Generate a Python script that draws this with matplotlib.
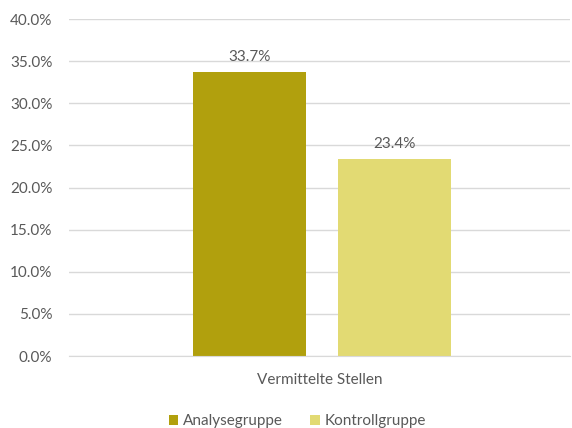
import matplotlib.pyplot as plt
from matplotlib.ticker import PercentFormatter, MultipleLocator

plt.rcParams['font.family'] = ['Lato', 'DejaVu Sans']

# Anteil vermittelter Stellen je Gruppe
category = "Vermittelte Stellen"
groups = ["Analysegruppe", "Kontrollgruppe"]
values = [33.7, 23.4]
colors = ["#B1A00D", "#E2DA73"]

text_color = "#595959"
grid_color = "#D9D9D9"
fs = 11

fig = plt.figure(figsize=(5.72, 4.28), dpi=100)
ax = fig.add_axes([0.1206, 0.1682, 0.876, 0.7874])

offsets = [-0.14, 0.149]
width = 0.225
for g, v, c, off in zip(groups, values, colors, offsets):
    b = ax.bar(off, v, width=width, color=c, label=g, zorder=3)
    ax.bar_label(b, labels=[f"{v:.1f}%"], padding=6, fontsize=fs, color=text_color)

ax.set_xlim(-0.5, 0.5)
ax.set_ylim(0, 40)
ax.yaxis.set_major_locator(MultipleLocator(5))
ax.yaxis.set_major_formatter(PercentFormatter(decimals=1))
ax.set_xticks([0])
ax.set_xticklabels([category])
ax.tick_params(axis='both', length=0, labelsize=fs, labelcolor=text_color)
ax.tick_params(axis='y', pad=12)
ax.tick_params(axis='x', pad=12)

ax.grid(axis='y', color=grid_color, linewidth=1, zorder=0)
for s in ["top", "right", "left"]:
    ax.spines[s].set_visible(False)
ax.spines["bottom"].set_color(grid_color)
ax.spines["bottom"].set_zorder(4)

fig.legend(loc="lower center", bbox_to_anchor=(0.52, 0.0), ncol=2, frameon=False,
           fontsize=fs, labelcolor=text_color, handlelength=0.65, handleheight=0.65,
           handletextpad=0.3, columnspacing=1.8, borderpad=0.0, borderaxespad=0.0)

fig.savefig("out.png", dpi=100)
